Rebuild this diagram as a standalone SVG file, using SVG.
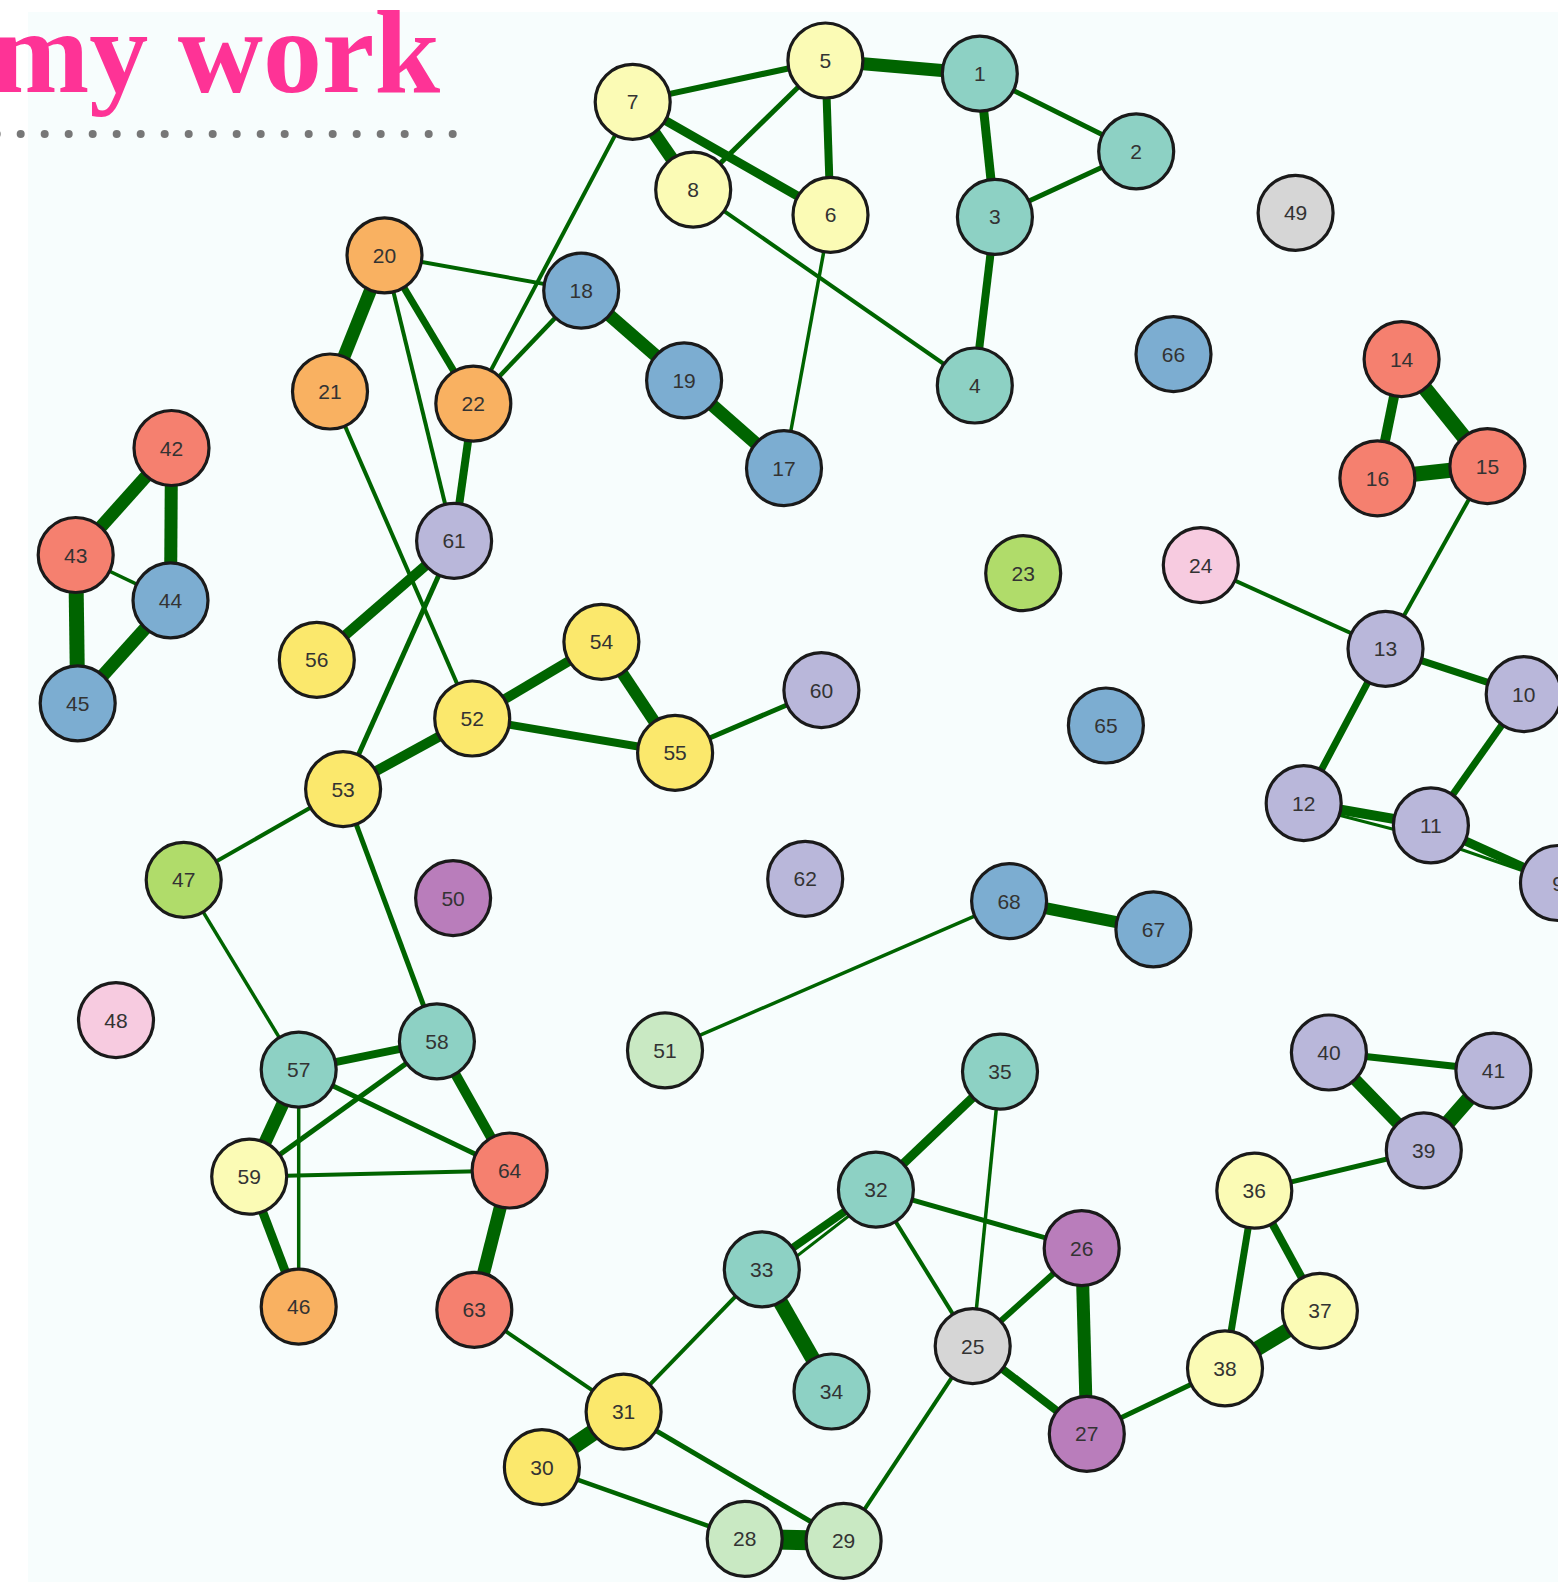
<svg xmlns="http://www.w3.org/2000/svg" width="1558" height="1582" viewBox="0 0 1558 1582">
<style>
.e{stroke:#006400;stroke-linecap:butt;fill:none}
.n circle{stroke:#1a1a1a;stroke-width:3.2}
.n text{font-family:"Liberation Sans",Arial,sans-serif;font-size:21px;fill:#333;text-anchor:middle}
.t{fill:#8dd1c4}.ly{fill:#fbfbb5}.lv{fill:#b9b7da}.s{fill:#f5806f}.b{fill:#7cadd1}.o{fill:#f9b161}.g{fill:#b0dc6a}.p{fill:#f7cbe0}.gr{fill:#d6d6d6}.pu{fill:#b97dbb}.lg{fill:#c9e9c3}.y{fill:#fbe86c}
</style>
<rect x="0" y="0" width="1558" height="1582" fill="#ffffff"/>
<rect x="28" y="12" width="1530" height="1570" fill="#f7fdfd"/>
<text x="-9" y="92" font-family="Liberation Serif,Times New Roman,serif" font-weight="bold" font-size="118" fill="#fe3396">my work</text>
<g fill="#777777">
<circle cx="-3.3" cy="134" r="4"/><circle cx="20.7" cy="134" r="4"/><circle cx="44.7" cy="134" r="4"/><circle cx="68.7" cy="134" r="4"/><circle cx="92.7" cy="134" r="4"/><circle cx="116.7" cy="134" r="4"/><circle cx="140.7" cy="134" r="4"/><circle cx="164.7" cy="134" r="4"/><circle cx="188.7" cy="134" r="4"/><circle cx="212.7" cy="134" r="4"/><circle cx="236.7" cy="134" r="4"/><circle cx="260.7" cy="134" r="4"/><circle cx="284.7" cy="134" r="4"/><circle cx="308.7" cy="134" r="4"/><circle cx="332.7" cy="134" r="4"/><circle cx="356.7" cy="134" r="4"/><circle cx="380.7" cy="134" r="4"/><circle cx="404.7" cy="134" r="4"/><circle cx="428.7" cy="134" r="4"/><circle cx="452.7" cy="134" r="4"/>
</g>
<g id="edges" class="e">
<line x1="979.8" y1="73.7" x2="825.4" y2="60.5" stroke-width="13"/>
<line x1="979.8" y1="73.7" x2="994.9" y2="216.9" stroke-width="9"/>
<line x1="979.8" y1="73.7" x2="1136.2" y2="151.4" stroke-width="5"/>
<line x1="1136.2" y1="151.4" x2="994.9" y2="216.9" stroke-width="5"/>
<line x1="994.9" y1="216.9" x2="974.8" y2="385.5" stroke-width="8"/>
<line x1="825.4" y1="60.5" x2="632.7" y2="101.9" stroke-width="6"/>
<line x1="825.4" y1="60.5" x2="693.2" y2="189.7" stroke-width="5"/>
<line x1="825.4" y1="60.5" x2="830.5" y2="214.9" stroke-width="8"/>
<line x1="632.7" y1="101.9" x2="693.2" y2="189.7" stroke-width="13"/>
<line x1="632.7" y1="101.9" x2="830.5" y2="214.9" stroke-width="9"/>
<line x1="632.7" y1="101.9" x2="473.3" y2="403.6" stroke-width="4"/>
<line x1="693.2" y1="189.7" x2="974.8" y2="385.5" stroke-width="4"/>
<line x1="830.5" y1="214.9" x2="784.0" y2="468.2" stroke-width="3.5"/>
<line x1="384.5" y1="255.3" x2="581.2" y2="290.6" stroke-width="4"/>
<line x1="384.5" y1="255.3" x2="330.0" y2="391.5" stroke-width="13"/>
<line x1="384.5" y1="255.3" x2="473.3" y2="403.6" stroke-width="7"/>
<line x1="384.5" y1="255.3" x2="454.1" y2="540.9" stroke-width="4"/>
<line x1="473.3" y1="403.6" x2="454.1" y2="540.9" stroke-width="8"/>
<line x1="473.3" y1="403.6" x2="581.2" y2="290.6" stroke-width="4.5"/>
<line x1="581.2" y1="290.6" x2="684.1" y2="380.4" stroke-width="13"/>
<line x1="684.1" y1="380.4" x2="784.0" y2="468.2" stroke-width="13"/>
<line x1="330.0" y1="391.5" x2="472.2" y2="718.5" stroke-width="4"/>
<line x1="454.1" y1="540.9" x2="316.8" y2="659.9" stroke-width="10"/>
<line x1="454.1" y1="540.9" x2="343.1" y2="789.1" stroke-width="5"/>
<line x1="472.2" y1="718.5" x2="601.4" y2="641.8" stroke-width="10"/>
<line x1="472.2" y1="718.5" x2="675.1" y2="752.8" stroke-width="8"/>
<line x1="601.4" y1="641.8" x2="675.1" y2="752.8" stroke-width="12"/>
<line x1="675.1" y1="752.8" x2="821.4" y2="690.2" stroke-width="5"/>
<line x1="472.2" y1="718.5" x2="343.1" y2="789.1" stroke-width="10"/>
<line x1="343.1" y1="789.1" x2="183.7" y2="879.9" stroke-width="4"/>
<line x1="343.1" y1="789.1" x2="436.9" y2="1041.4" stroke-width="5"/>
<line x1="183.7" y1="879.9" x2="298.7" y2="1069.6" stroke-width="3.5"/>
<line x1="298.7" y1="1069.6" x2="436.9" y2="1041.4" stroke-width="8"/>
<line x1="298.7" y1="1069.6" x2="249.2" y2="1176.6" stroke-width="13"/>
<line x1="298.7" y1="1069.6" x2="509.6" y2="1170.5" stroke-width="5"/>
<line x1="298.7" y1="1069.6" x2="298.7" y2="1306.7" stroke-width="3.5"/>
<line x1="436.9" y1="1041.4" x2="249.2" y2="1176.6" stroke-width="5"/>
<line x1="436.9" y1="1041.4" x2="509.6" y2="1170.5" stroke-width="10"/>
<line x1="249.2" y1="1176.6" x2="509.6" y2="1170.5" stroke-width="4"/>
<line x1="249.2" y1="1176.6" x2="298.7" y2="1306.7" stroke-width="9"/>
<line x1="509.6" y1="1170.5" x2="474.3" y2="1309.8" stroke-width="13"/>
<line x1="474.3" y1="1309.8" x2="623.6" y2="1411.7" stroke-width="4"/>
<line x1="623.6" y1="1411.7" x2="541.9" y2="1467.2" stroke-width="17"/>
<line x1="623.6" y1="1411.7" x2="761.8" y2="1269.4" stroke-width="4"/>
<line x1="623.6" y1="1411.7" x2="843.6" y2="1540.9" stroke-width="5"/>
<line x1="541.9" y1="1467.2" x2="744.7" y2="1538.8" stroke-width="4.5"/>
<line x1="744.7" y1="1538.8" x2="843.6" y2="1540.9" stroke-width="20"/>
<line x1="843.6" y1="1540.9" x2="972.7" y2="1346.1" stroke-width="4"/>
<line x1="761.8" y1="1269.4" x2="875.9" y2="1189.7" stroke-width="8"/>
<line x1="766" y1="1280" x2="875.9" y2="1195" stroke-width="3"/>
<line x1="761.8" y1="1269.4" x2="831.5" y2="1391.5" stroke-width="15"/>
<line x1="875.9" y1="1189.7" x2="1000.0" y2="1071.6" stroke-width="9"/>
<line x1="875.9" y1="1189.7" x2="1081.7" y2="1248.2" stroke-width="5"/>
<line x1="875.9" y1="1189.7" x2="972.7" y2="1346.1" stroke-width="4"/>
<line x1="1000.0" y1="1071.6" x2="972.7" y2="1346.1" stroke-width="3.5"/>
<line x1="972.7" y1="1346.1" x2="1081.7" y2="1248.2" stroke-width="6"/>
<line x1="972.7" y1="1346.1" x2="1086.8" y2="1433.9" stroke-width="8"/>
<line x1="1081.7" y1="1248.2" x2="1086.8" y2="1433.9" stroke-width="13"/>
<line x1="1086.8" y1="1433.9" x2="1225.0" y2="1368.3" stroke-width="5"/>
<line x1="1225.0" y1="1368.3" x2="1319.9" y2="1310.8" stroke-width="15"/>
<line x1="1225.0" y1="1368.3" x2="1254.3" y2="1190.7" stroke-width="7"/>
<line x1="1254.3" y1="1190.7" x2="1319.9" y2="1310.8" stroke-width="8"/>
<line x1="1254.3" y1="1190.7" x2="1423.8" y2="1150.3" stroke-width="5"/>
<line x1="1423.8" y1="1150.3" x2="1328.9" y2="1052.5" stroke-width="12"/>
<line x1="1423.8" y1="1150.3" x2="1493.4" y2="1070.6" stroke-width="15"/>
<line x1="1328.9" y1="1052.5" x2="1493.4" y2="1070.6" stroke-width="7"/>
<line x1="171.5" y1="448.0" x2="75.7" y2="555.0" stroke-width="13"/>
<line x1="171.5" y1="448.0" x2="170.5" y2="600.4" stroke-width="13"/>
<line x1="75.7" y1="555.0" x2="170.5" y2="600.4" stroke-width="3.5"/>
<line x1="75.7" y1="555.0" x2="77.7" y2="703.3" stroke-width="15"/>
<line x1="170.5" y1="600.4" x2="77.7" y2="703.3" stroke-width="13"/>
<line x1="1401.6" y1="359.2" x2="1377.4" y2="478.3" stroke-width="10"/>
<line x1="1401.6" y1="359.2" x2="1487.4" y2="466.2" stroke-width="15"/>
<line x1="1377.4" y1="478.3" x2="1487.4" y2="466.2" stroke-width="15"/>
<line x1="1487.4" y1="466.2" x2="1385.5" y2="648.8" stroke-width="4"/>
<line x1="1200.8" y1="565.1" x2="1385.5" y2="648.8" stroke-width="4"/>
<line x1="1385.5" y1="648.8" x2="1523.7" y2="694.2" stroke-width="7"/>
<line x1="1385.5" y1="648.8" x2="1303.7" y2="803.2" stroke-width="7"/>
<line x1="1523.7" y1="694.2" x2="1430.9" y2="825.4" stroke-width="7"/>
<line x1="1303.7" y1="803.2" x2="1430.9" y2="825.4" stroke-width="10"/>
<line x1="1303.7" y1="806" x2="1430.9" y2="839" stroke-width="3"/>
<line x1="1430.9" y1="825.4" x2="1558" y2="883" stroke-width="9"/>
<line x1="1430.9" y1="839" x2="1558" y2="883" stroke-width="3"/>
<line x1="1009.1" y1="901.1" x2="665.0" y2="1050.4" stroke-width="3.5"/>
<line x1="1009.1" y1="901.1" x2="1153.4" y2="929.4" stroke-width="12"/>
</g>
<g id="node1" class="n"><circle class="t" cx="979.8" cy="73.7" r="37.5"/><text x="979.8" y="81.2">1</text></g>
<g id="node2" class="n"><circle class="t" cx="1136.2" cy="151.4" r="37.5"/><text x="1136.2" y="158.9">2</text></g>
<g id="node3" class="n"><circle class="t" cx="994.9" cy="216.9" r="37.5"/><text x="994.9" y="224.4">3</text></g>
<g id="node4" class="n"><circle class="t" cx="974.8" cy="385.5" r="37.5"/><text x="974.8" y="393">4</text></g>
<g id="node5" class="n"><circle class="ly" cx="825.4" cy="60.5" r="37.5"/><text x="825.4" y="68">5</text></g>
<g id="node6" class="n"><circle class="ly" cx="830.5" cy="214.9" r="37.5"/><text x="830.5" y="222.4">6</text></g>
<g id="node7" class="n"><circle class="ly" cx="632.7" cy="101.9" r="37.5"/><text x="632.7" y="109.4">7</text></g>
<g id="node8" class="n"><circle class="ly" cx="693.2" cy="189.7" r="37.5"/><text x="693.2" y="197.2">8</text></g>
<g id="node9" class="n"><circle class="lv" cx="1558" cy="883" r="37.5"/><text x="1558" y="890.5">9</text></g>
<g id="node10" class="n"><circle class="lv" cx="1523.7" cy="694.2" r="37.5"/><text x="1523.7" y="701.7">10</text></g>
<g id="node11" class="n"><circle class="lv" cx="1430.9" cy="825.4" r="37.5"/><text x="1430.9" y="832.9">11</text></g>
<g id="node12" class="n"><circle class="lv" cx="1303.7" cy="803.2" r="37.5"/><text x="1303.7" y="810.7">12</text></g>
<g id="node13" class="n"><circle class="lv" cx="1385.5" cy="648.8" r="37.5"/><text x="1385.5" y="656.3">13</text></g>
<g id="node14" class="n"><circle class="s" cx="1401.6" cy="359.2" r="37.5"/><text x="1401.6" y="366.7">14</text></g>
<g id="node15" class="n"><circle class="s" cx="1487.4" cy="466.2" r="37.5"/><text x="1487.4" y="473.7">15</text></g>
<g id="node16" class="n"><circle class="s" cx="1377.4" cy="478.3" r="37.5"/><text x="1377.4" y="485.8">16</text></g>
<g id="node17" class="n"><circle class="b" cx="784.0" cy="468.2" r="37.5"/><text x="784.0" y="475.7">17</text></g>
<g id="node18" class="n"><circle class="b" cx="581.2" cy="290.6" r="37.5"/><text x="581.2" y="298.1">18</text></g>
<g id="node19" class="n"><circle class="b" cx="684.1" cy="380.4" r="37.5"/><text x="684.1" y="387.9">19</text></g>
<g id="node20" class="n"><circle class="o" cx="384.5" cy="255.3" r="37.5"/><text x="384.5" y="262.8">20</text></g>
<g id="node21" class="n"><circle class="o" cx="330.0" cy="391.5" r="37.5"/><text x="330.0" y="399">21</text></g>
<g id="node22" class="n"><circle class="o" cx="473.3" cy="403.6" r="37.5"/><text x="473.3" y="411.1">22</text></g>
<g id="node23" class="n"><circle class="g" cx="1023.2" cy="573.2" r="37.5"/><text x="1023.2" y="580.7">23</text></g>
<g id="node24" class="n"><circle class="p" cx="1200.8" cy="565.1" r="37.5"/><text x="1200.8" y="572.6">24</text></g>
<g id="node25" class="n"><circle class="gr" cx="972.7" cy="1346.1" r="37.5"/><text x="972.7" y="1353.6">25</text></g>
<g id="node26" class="n"><circle class="pu" cx="1081.7" cy="1248.2" r="37.5"/><text x="1081.7" y="1255.7">26</text></g>
<g id="node27" class="n"><circle class="pu" cx="1086.8" cy="1433.9" r="37.5"/><text x="1086.8" y="1441.4">27</text></g>
<g id="node28" class="n"><circle class="lg" cx="744.7" cy="1538.8" r="37.5"/><text x="744.7" y="1546.3">28</text></g>
<g id="node29" class="n"><circle class="lg" cx="843.6" cy="1540.9" r="37.5"/><text x="843.6" y="1548.4">29</text></g>
<g id="node30" class="n"><circle class="y" cx="541.9" cy="1467.2" r="37.5"/><text x="541.9" y="1474.7">30</text></g>
<g id="node31" class="n"><circle class="y" cx="623.6" cy="1411.7" r="37.5"/><text x="623.6" y="1419.2">31</text></g>
<g id="node32" class="n"><circle class="t" cx="875.9" cy="1189.7" r="37.5"/><text x="875.9" y="1197.2">32</text></g>
<g id="node33" class="n"><circle class="t" cx="761.8" cy="1269.4" r="37.5"/><text x="761.8" y="1276.9">33</text></g>
<g id="node34" class="n"><circle class="t" cx="831.5" cy="1391.5" r="37.5"/><text x="831.5" y="1399">34</text></g>
<g id="node35" class="n"><circle class="t" cx="1000.0" cy="1071.6" r="37.5"/><text x="1000.0" y="1079.1">35</text></g>
<g id="node36" class="n"><circle class="ly" cx="1254.3" cy="1190.7" r="37.5"/><text x="1254.3" y="1198.2">36</text></g>
<g id="node37" class="n"><circle class="ly" cx="1319.9" cy="1310.8" r="37.5"/><text x="1319.9" y="1318.3">37</text></g>
<g id="node38" class="n"><circle class="ly" cx="1225.0" cy="1368.3" r="37.5"/><text x="1225.0" y="1375.8">38</text></g>
<g id="node39" class="n"><circle class="lv" cx="1423.8" cy="1150.3" r="37.5"/><text x="1423.8" y="1157.8">39</text></g>
<g id="node40" class="n"><circle class="lv" cx="1328.9" cy="1052.5" r="37.5"/><text x="1328.9" y="1060">40</text></g>
<g id="node41" class="n"><circle class="lv" cx="1493.4" cy="1070.6" r="37.5"/><text x="1493.4" y="1078.1">41</text></g>
<g id="node42" class="n"><circle class="s" cx="171.5" cy="448.0" r="37.5"/><text x="171.5" y="455.5">42</text></g>
<g id="node43" class="n"><circle class="s" cx="75.7" cy="555.0" r="37.5"/><text x="75.7" y="562.5">43</text></g>
<g id="node44" class="n"><circle class="b" cx="170.5" cy="600.4" r="37.5"/><text x="170.5" y="607.9">44</text></g>
<g id="node45" class="n"><circle class="b" cx="77.7" cy="703.3" r="37.5"/><text x="77.7" y="710.8">45</text></g>
<g id="node46" class="n"><circle class="o" cx="298.7" cy="1306.7" r="37.5"/><text x="298.7" y="1314.2">46</text></g>
<g id="node47" class="n"><circle class="g" cx="183.7" cy="879.9" r="37.5"/><text x="183.7" y="887.4">47</text></g>
<g id="node48" class="n"><circle class="p" cx="116.0" cy="1020.2" r="37.5"/><text x="116.0" y="1027.7">48</text></g>
<g id="node49" class="n"><circle class="gr" cx="1295.6" cy="212.9" r="37.5"/><text x="1295.6" y="220.4">49</text></g>
<g id="node50" class="n"><circle class="pu" cx="453.1" cy="898.1" r="37.5"/><text x="453.1" y="905.6">50</text></g>
<g id="node51" class="n"><circle class="lg" cx="665.0" cy="1050.4" r="37.5"/><text x="665.0" y="1057.9">51</text></g>
<g id="node52" class="n"><circle class="y" cx="472.2" cy="718.5" r="37.5"/><text x="472.2" y="726">52</text></g>
<g id="node53" class="n"><circle class="y" cx="343.1" cy="789.1" r="37.5"/><text x="343.1" y="796.6">53</text></g>
<g id="node54" class="n"><circle class="y" cx="601.4" cy="641.8" r="37.5"/><text x="601.4" y="649.3">54</text></g>
<g id="node55" class="n"><circle class="y" cx="675.1" cy="752.8" r="37.5"/><text x="675.1" y="760.3">55</text></g>
<g id="node56" class="n"><circle class="y" cx="316.8" cy="659.9" r="37.5"/><text x="316.8" y="667.4">56</text></g>
<g id="node57" class="n"><circle class="t" cx="298.7" cy="1069.6" r="37.5"/><text x="298.7" y="1077.1">57</text></g>
<g id="node58" class="n"><circle class="t" cx="436.9" cy="1041.4" r="37.5"/><text x="436.9" y="1048.9">58</text></g>
<g id="node59" class="n"><circle class="ly" cx="249.2" cy="1176.6" r="37.5"/><text x="249.2" y="1184.1">59</text></g>
<g id="node60" class="n"><circle class="lv" cx="821.4" cy="690.2" r="37.5"/><text x="821.4" y="697.7">60</text></g>
<g id="node61" class="n"><circle class="lv" cx="454.1" cy="540.9" r="37.5"/><text x="454.1" y="548.4">61</text></g>
<g id="node62" class="n"><circle class="lv" cx="805.2" cy="878.9" r="37.5"/><text x="805.2" y="886.4">62</text></g>
<g id="node63" class="n"><circle class="s" cx="474.3" cy="1309.8" r="37.5"/><text x="474.3" y="1317.3">63</text></g>
<g id="node64" class="n"><circle class="s" cx="509.6" cy="1170.5" r="37.5"/><text x="509.6" y="1178">64</text></g>
<g id="node65" class="n"><circle class="b" cx="1105.9" cy="725.5" r="37.5"/><text x="1105.9" y="733">65</text></g>
<g id="node66" class="n"><circle class="b" cx="1173.5" cy="354.2" r="37.5"/><text x="1173.5" y="361.7">66</text></g>
<g id="node67" class="n"><circle class="b" cx="1153.4" cy="929.4" r="37.5"/><text x="1153.4" y="936.9">67</text></g>
<g id="node68" class="n"><circle class="b" cx="1009.1" cy="901.1" r="37.5"/><text x="1009.1" y="908.6">68</text></g>
</svg>
